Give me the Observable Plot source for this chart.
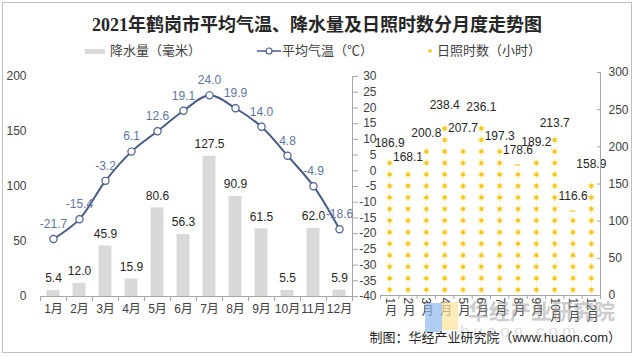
<!DOCTYPE html>
<html>
<head>
<meta charset="utf-8">
<script src="https://cdn.jsdelivr.net/npm/d3@7"></script>
<script src="https://cdn.jsdelivr.net/npm/@observablehq/plot@0.6"></script>
<style>
  body { margin: 0; background: #fff; }
  #wrap { position: relative; width: 634px; height: 357px; background: #fff; overflow: hidden;
          font-family: "Liberation Sans", "Noto Sans CJK SC", sans-serif; color: #404040; }
  .abs { position: absolute; }
  .leg { position: absolute; top: 43px; font-size: 13px; line-height: 16px; color: #404040; white-space: nowrap; }
</style>
</head>
<body>
<div id="wrap">
  <div class="abs" style="left:2px;top:2px;width:628px;height:349px;border:1px solid #c0c0c0;"></div>
  <div class="abs" style="left:0;top:14px;width:634px;text-align:center;font-family:'Liberation Serif','Noto Sans CJK SC',serif;font-weight:bold;font-size:18px;line-height:22px;color:#262626;">2021年鹤岗市平均气温、降水量及日照时数分月度走势图</div>

  <div class="abs" style="left:85px;top:49px;width:20px;height:5px;background:#d9d9d9;"></div>
  <div class="leg" style="left:110px;">降水量（毫米）</div>
  <svg class="abs" style="left:256px;top:44px" width="26" height="14">
    <line x1="1" y1="7" x2="25" y2="7" stroke="#4a5b88" stroke-width="1.5"/>
    <circle cx="13" cy="7" r="3" fill="#fff" stroke="#4a5b88" stroke-width="1.2"/>
  </svg>
  <div class="leg" style="left:282px;">平均气温（℃）</div>
  <svg class="abs" style="left:426px;top:47px" width="8" height="8">
    <circle cx="4" cy="4" r="1.8" fill="#f7c21c"/>
  </svg>
  <div class="leg" style="left:437px;">日照时数（小时）</div>

  <div id="left" class="abs" style="left:0;top:60px;"></div>
  <div id="right" class="abs" style="left:370px;top:60px;"></div>

  <div class="abs" style="left:425px;top:303px;width:17px;height:29px;background:#8fb8f0;opacity:0.7;"></div>
  <div class="abs" style="left:442px;top:302px;width:16px;height:28px;background:#fde49a;opacity:0.7;"></div>
  <div class="abs" style="left:468px;top:299px;font-size:21px;line-height:26px;color:#9a9a9a;opacity:0.5;font-weight:bold;white-space:nowrap;">华经产业研究院</div>
  <div class="abs" style="left:460px;top:322px;font-size:17px;line-height:20px;color:#b0b0b0;opacity:0.4;white-space:nowrap;letter-spacing:4px;">huaon.com</div>

  <div class="abs" style="right:13px;top:330px;font-size:13px;line-height:16px;color:#262626;white-space:nowrap;">制图：华经产业研究院（www.huaon.com）</div>
</div>
<script>
// ---- data ----
const months = ["1月","2月","3月","4月","5月","6月","7月","8月","9月","10月","11月","12月"];
const precipitation = [5.4, 12.0, 45.9, 15.9, 80.6, 56.3, 127.5, 90.9, 61.5, 5.5, 62.0, 5.9];
const temperature = [-21.7, -15.4, -3.2, 6.1, 12.6, 19.1, 24.0, 19.9, 14.0, 4.8, -4.9, -18.6];
const sunshine = [186.9, 168.1, 200.8, 238.4, 207.7, 236.1, 197.3, 178.6, 189.2, 213.7, 116.6, 158.9];
const precipTicks = [0, 50, 100, 150, 200];
const tempTicks = [-40, -35, -30, -25, -20, -15, -10, -5, 0, 5, 10, 15, 20, 25, 30];
const sunTicks = [0, 50, 100, 150, 200, 250, 300];
const sunUnit = 15.5; // hours per sun icon

// ---- styling ----
const axisColor = "#a6a6a6";
const textColor = "#404040";
const lineColor = "#4a5b88";
const tempLabelColor = "#62749e";
const font = "'Liberation Sans','Noto Sans CJK SC',sans-serif";

const rows = months.map((m, k) => ({i: k + 1, m, p: precipitation[k], t: temperature[k], s: sunshine[k]}));
const bounds = d3.range(0, 13).map(k => k + 0.5);

// temperature (-40..30) mapped onto the precipitation scale (0..200)
const tmap = t => (t + 40) * 200 / 70;
const tunmap = v => Math.round(v * 70 / 200 - 40);

const left = Plot.plot({
  width: 380, height: 270,
  marginTop: 16, marginBottom: 34, marginLeft: 40, marginRight: 28,
  style: {background: "transparent", fontSize: "12px", fontFamily: font, color: textColor, overflow: "visible"},
  x: {domain: [0.5, 12.5], axis: null, label: null},
  y: {domain: [0, 200], axis: null, label: null},
  marks: [
    Plot.rectY(rows, {x1: d => d.i - 0.25, x2: d => d.i + 0.25, y: "p", fill: "#d9d9d9"}),
    Plot.text(rows, {x: "i", y: "p", text: d => d.p.toFixed(1), dy: -12, fill: "#262626", fontSize: 12}),
    Plot.ruleY([0], {stroke: axisColor}),
    Plot.ruleX([12.5], {y1: 0, y2: 200, stroke: axisColor}),
    Plot.axisX(bounds, {tickSize: 5, fill: "none", stroke: axisColor, label: null}),
    Plot.axisX(rows.map(d => d.i), {tickSize: 0, tickPadding: 8, tickFormat: i => months[i - 1], fill: textColor, label: null}),
    Plot.axisY(precipTicks, {anchor: "left", tickSize: 0, tickPadding: 14, fill: textColor, label: null}),
    Plot.axisY(tempTicks.map(tmap), {anchor: "right", tickSize: 5, fill: "none", stroke: axisColor, label: null}),
    Plot.axisY(tempTicks.map(tmap), {anchor: "right", tickSize: 0, tickPadding: 24, textAnchor: "end", tickFormat: v => String(tunmap(v)), fill: textColor, label: null}),
    Plot.line(rows, {x: "i", y: d => tmap(d.t), stroke: lineColor, strokeWidth: 2, curve: "catmull-rom"}),
    Plot.dot(rows, {x: "i", y: d => tmap(d.t), r: 3.6, fill: "#fff", stroke: lineColor, strokeWidth: 1.2}),
    Plot.text(rows, {x: "i", y: d => tmap(d.t), text: d => d.t.toFixed(1), dy: -15, fill: tempLabelColor, fontSize: 12})
  ]
});
document.getElementById("left").appendChild(left);

// sun icons (pictogram) derived from sunshine values
const sunDots = [], sunHalf = [];
rows.forEach(d => {
  const n = d.s / sunUnit, full = Math.floor(n), f = n - full;
  for (let k = 0; k < full; k++) sunDots.push({i: d.i, v: (k + 0.5) * sunUnit});
  if (f >= 0.6) sunDots.push({i: d.i, v: (full + 0.5) * sunUnit});
  else if (f >= 0.4) sunHalf.push({i: d.i, v: (full + 0.5) * sunUnit});
});

const right = Plot.plot({
  width: 264, height: 270,
  marginTop: 12, marginBottom: 35, marginLeft: 10, marginRight: 34,
  style: {background: "transparent", fontSize: "12px", fontFamily: font, color: textColor, overflow: "visible"},
  x: {domain: [0.5, 12.5], axis: null, label: null},
  y: {domain: [0, 300], axis: null, label: null},
  marks: [
    Plot.dot(sunDots, {x: "i", y: "v", r: 3.6, symbol: "asterisk", stroke: "#ffe27a", strokeWidth: 1}),
    Plot.dot(sunDots, {x: "i", y: "v", r: 2, fill: "#f9c414"}),
    Plot.ruleY(sunHalf, {x1: d => d.i - 0.15, x2: d => d.i + 0.15, y: "v", dy: 2, stroke: "#f7d04a", strokeWidth: 1.5}),
    Plot.text(rows, {x: "i", y: "s", text: d => d.s.toFixed(1), dy: -13, fill: "#262626", fontSize: 12}),
    Plot.ruleY([0], {stroke: axisColor}),
    Plot.ruleX([12.5], {y1: 0, y2: 300, stroke: axisColor}),
    Plot.axisX(bounds, {tickSize: 4, fill: "none", stroke: axisColor, label: null}),
    Plot.axisX(rows.map(d => d.i), {tickSize: 0, tickPadding: 2, tickFormat: i => months[i - 1], fill: textColor, label: null}),
    Plot.axisY(sunTicks, {anchor: "right", tickSize: -4, fill: "none", stroke: axisColor, label: null}),
    Plot.axisY(sunTicks, {anchor: "right", tickSize: 0, tickPadding: 8, fill: textColor, label: null})
  ]
});
document.getElementById("right").appendChild(right);

// vertical (stacked) month labels in the right panel
right.querySelectorAll('g[aria-label="x-axis tick label"] text').forEach(t => {
  t.setAttribute("dy", "0");
  t.setAttribute("y", "0");
  t.setAttribute("text-anchor", "start");
  t.style.writingMode = "vertical-rl";
});
</script>
</body>
</html>
